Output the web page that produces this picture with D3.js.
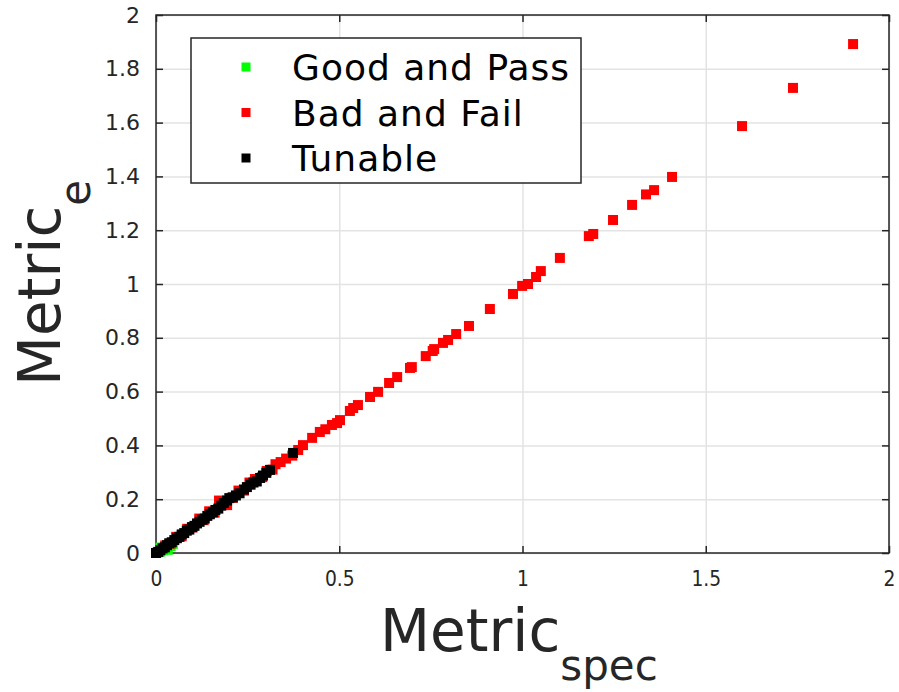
<!DOCTYPE html>
<html>
<head>
<meta charset="utf-8">
<script src="https://cdn.jsdelivr.net/npm/d3@7"></script>
<style>
  body { margin: 0; background: white; }
  svg { display: block; }
</style>
</head>
<body>
<svg id="main-svg" width="899" height="692"><g></g></svg>
<script>
// data: [metric_spec, metric_e]
const goodPoints = [
  [0.004, 0.002], [0.010, 0.004], [0.018, 0.010], [0.026, 0.014], [0.032, 0.012],
  [0.012, 0.020], [0.040, 0.026], [0.046, 0.034]
];
const badPoints = [
  [1.902, 1.892], [1.738, 1.729], [1.599, 1.587], [1.408, 1.398], [1.359, 1.349],
  [1.337, 1.333], [1.299, 1.294], [1.247, 1.238], [1.193, 1.186], [1.181, 1.178],
  [1.102, 1.097], [1.050, 1.048], [1.037, 1.026], [1.015, 1.000], [0.999, 0.993],
  [0.974, 0.963], [0.911, 0.907], [0.854, 0.844], [0.819, 0.814], [0.797, 0.792],
  [0.783, 0.781], [0.759, 0.758], [0.755, 0.751], [0.736, 0.732], [0.698, 0.691],
  [0.693, 0.688], [0.658, 0.654], [0.636, 0.632], [0.606, 0.599], [0.584, 0.580],
  [0.551, 0.550], [0.538, 0.539], [0.529, 0.528], [0.502, 0.494], [0.494, 0.483],
  [0.480, 0.476], [0.462, 0.460], [0.447, 0.450], [0.426, 0.428], [0.401, 0.401],
  [0.388, 0.383], [0.372, 0.362], [0.355, 0.351], [0.340, 0.338], [0.326, 0.330],
  [0.318, 0.310], [0.302, 0.305], [0.290, 0.282], [0.270, 0.275], [0.255, 0.262],
  [0.240, 0.232], [0.225, 0.232], [0.210, 0.205], [0.194, 0.178], [0.172, 0.195],
  [0.160, 0.150], [0.145, 0.155], [0.130, 0.122], [0.118, 0.128], [0.100, 0.095],
  [0.085, 0.090], [0.070, 0.062], [0.055, 0.060], [0.040, 0.035], [0.025, 0.028]
];
const tunablePoints = [
  [0.000, 0.000], [0.006, 0.004], [0.012, 0.010], [0.018, 0.017], [0.024, 0.021],
  [0.030, 0.029], [0.036, 0.036], [0.043, 0.040], [0.050, 0.048], [0.057, 0.055],
  [0.064, 0.060], [0.070, 0.069], [0.077, 0.074], [0.084, 0.083], [0.091, 0.087],
  [0.098, 0.096], [0.105, 0.101], [0.112, 0.110], [0.119, 0.116], [0.126, 0.124],
  [0.133, 0.128], [0.140, 0.138], [0.147, 0.144], [0.155, 0.151], [0.162, 0.160],
  [0.170, 0.165], [0.178, 0.176], [0.185, 0.186], [0.194, 0.195], [0.200, 0.204],
  [0.209, 0.207], [0.218, 0.214], [0.228, 0.222], [0.240, 0.236], [0.248, 0.245],
  [0.258, 0.254], [0.266, 0.262], [0.275, 0.266], [0.284, 0.279], [0.292, 0.288],
  [0.301, 0.298], [0.311, 0.309], [0.374, 0.372]
];
const seriesNames = ["Good and Pass", "Bad and Fail", "Tunable"];
const seriesColors = ["#00ff00", "#ff0000", "#000000"];
const xTicks = [0, 0.5, 1, 1.5, 2];
const yTicks = [0, 0.2, 0.4, 0.6, 0.8, 1, 1.2, 1.4, 1.6, 1.8, 2];

const svg = d3.select("#main-svg");
const content = svg.select("g");

// plot box
const plotLeft = 156, plotRight = 889, plotTop = 15, plotBottom = 553;
const x = d3.scaleLinear().domain([0, 2]).range([plotLeft, plotRight]);
const y = d3.scaleLinear().domain([0, 2]).range([plotBottom, plotTop]);
const axisColor = "#262626";
const gridColor = "#e3e3e3";

// grid
content.append("g")
  .attr("transform", `translate(0,${plotBottom})`)
  .call(d3.axisBottom(x).tickValues(xTicks).tickSize(-(plotBottom - plotTop)).tickFormat(""))
  .call(g => g.select(".domain").remove())
  .call(g => g.selectAll("line").attr("stroke", gridColor).attr("stroke-width", 1.5));
content.append("g")
  .attr("transform", `translate(${plotLeft},0)`)
  .call(d3.axisLeft(y).tickValues(yTicks).tickSize(-(plotRight - plotLeft)).tickFormat(""))
  .call(g => g.select(".domain").remove())
  .call(g => g.selectAll("line").attr("stroke", gridColor).attr("stroke-width", 1.5));

// axes with inward ticks on all four sides
const fmt = d => d3.format("~g")(d);
const tickLen = 7;
const styleAxis = g => {
  g.select(".domain").remove();
  g.selectAll("line").attr("stroke", axisColor).attr("stroke-width", 1.5);
  g.selectAll("text").attr("fill", axisColor).attr("font-family", "DejaVu Sans").attr("font-size", 22);
};
content.append("g")
  .attr("transform", `translate(0,${plotBottom})`)
  .call(d3.axisBottom(x).tickValues(xTicks).tickFormat(fmt).tickSizeInner(-tickLen).tickPadding(17))
  .call(styleAxis)
  .call(g => g.selectAll("text").attr("transform", "scale(0.85,1)")); // condensed x tick labels
content.append("g")
  .attr("transform", `translate(0,${plotTop})`)
  .call(d3.axisTop(x).tickValues(xTicks).tickFormat("").tickSizeInner(-tickLen))
  .call(styleAxis);
content.append("g")
  .attr("transform", `translate(${plotLeft},0)`)
  .call(d3.axisLeft(y).tickValues(yTicks).tickFormat(fmt).tickSizeInner(-tickLen).tickPadding(16))
  .call(styleAxis);
content.append("g")
  .attr("transform", `translate(${plotRight},0)`)
  .call(d3.axisRight(y).tickValues(yTicks).tickFormat("").tickSizeInner(-tickLen))
  .call(styleAxis);

content.append("rect")
  .attr("x", plotLeft).attr("y", plotTop)
  .attr("width", plotRight - plotLeft).attr("height", plotBottom - plotTop)
  .attr("fill", "none").attr("stroke", axisColor).attr("stroke-width", 1.5);

// markers
const markerSize = 10;
[goodPoints, badPoints, tunablePoints].forEach((pts, i) => {
  content.append("g").selectAll("rect")
    .data(pts)
    .enter()
    .append("rect")
    .attr("x", d => x(d[0]) - markerSize / 2)
    .attr("y", d => y(d[1]) - markerSize / 2)
    .attr("width", markerSize)
    .attr("height", markerSize)
    .attr("fill", seriesColors[i]);
});

// legend
const legend = content.append("g").attr("transform", "translate(191,38)");
legend.append("rect")
  .attr("width", 390).attr("height", 145)
  .attr("fill", "white").attr("stroke", axisColor).attr("stroke-width", 1.5);
seriesNames.forEach((name, i) => {
  legend.append("rect")
    .attr("x", 55 - 4.5).attr("y", 29 + i * 45.5 - 4.5)
    .attr("width", 9).attr("height", 9)
    .attr("fill", seriesColors[i]);
  legend.append("text")
    .attr("x", 101).attr("y", 42 + i * 45.5)
    .attr("font-family", "DejaVu Sans").attr("font-size", 36)
    .attr("letter-spacing", 1)
    .attr("fill", "#000")
    .text(name);
});

// axis labels
const xLabel = content.append("text")
  .attr("x", 380).attr("y", 651)
  .attr("font-family", "DejaVu Sans").attr("font-size", 58)
  .attr("fill", axisColor);
xLabel.append("tspan").text("Metric");
xLabel.append("tspan").attr("font-size", 42).attr("dy", 29).text("spec");

const yLabel = content.append("text")
  .attr("transform", "translate(60,386) rotate(-90)")
  .attr("font-family", "DejaVu Sans").attr("font-size", 58)
  .attr("fill", axisColor);
yLabel.append("tspan").text("Metric");
yLabel.append("tspan").attr("font-size", 42).attr("dy", 30).text("e");
</script>
</body>
</html>
